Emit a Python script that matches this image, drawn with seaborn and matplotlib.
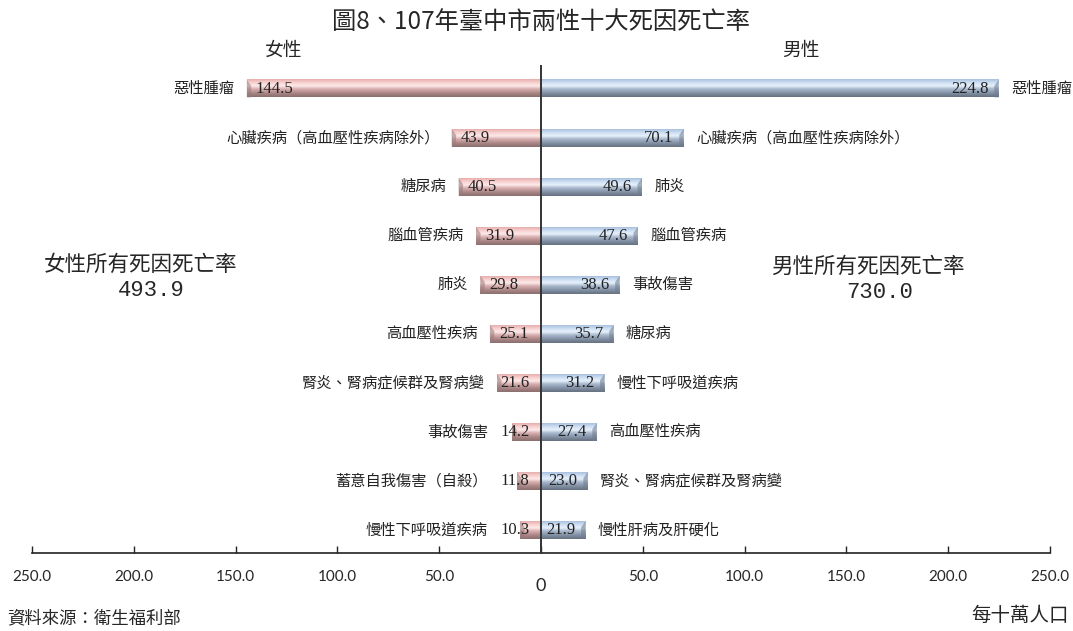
import seaborn as sns
import pandas as pd
import numpy as np
import matplotlib
matplotlib.use("Agg")
import matplotlib.pyplot as plt
from matplotlib.colors import LinearSegmentedColormap

sns.set_theme(style="white")
plt.rcParams['font.family'] = ['Noto Sans CJK TC', 'DejaVu Sans']

# data (per 100,000 population)
female_causes = ["惡性腫瘤", "心臟疾病（高血壓性疾病除外）", "糖尿病", "腦血管疾病", "肺炎",
                 "高血壓性疾病", "腎炎、腎病症候群及腎病變", "事故傷害", "蓄意自我傷害（自殺）",
                 "慢性下呼吸道疾病"]
female_rates = [144.5, 43.9, 40.5, 31.9, 29.8, 25.1, 21.6, 14.2, 11.8, 10.3]

male_causes = ["惡性腫瘤", "心臟疾病（高血壓性疾病除外）", "肺炎", "腦血管疾病", "事故傷害",
               "糖尿病", "慢性下呼吸道疾病", "高血壓性疾病", "腎炎、腎病症候群及腎病變",
               "慢性肝病及肝硬化"]
male_rates = [224.8, 70.1, 49.6, 47.6, 38.6, 35.7, 31.2, 27.4, 23.0, 21.9]

female_total = "493.9"
male_total = "730.0"
xticks = [-250, -200, -150, -100, -50, 0, 50, 100, 150, 200, 250]

ranks = list(range(len(female_rates)))
df = pd.DataFrame({
    "rank": ranks + ranks,
    "value": [-v for v in female_rates] + male_rates,
    "sex": ["女性"] * len(ranks) + ["男性"] * len(ranks),
})

fig = plt.figure(figsize=(10.73, 6.31), dpi=100)
ax = fig.add_axes([0.0298, 0.1236, 0.9488, 0.774])

bar_h = 0.36
sns.barplot(data=df, x="value", y="rank", hue="sex", orient="h", dodge=False,
            palette={"女性": "#f0b8b8", "男性": "#b8cce6"}, width=bar_h,
            legend=False, ax=ax, zorder=2)

# bevel-like gradients on each bar
pink = LinearSegmentedColormap.from_list("pink", [
    (0.0, "#e8aeae"), (0.2, "#f8d2d2"), (0.38, "#fde9e9"), (0.55, "#d9b0b0"),
    (0.8, "#a88484"), (1.0, "#8a6e6e")])
blue = LinearSegmentedColormap.from_list("blue", [
    (0.0, "#a9c0de"), (0.2, "#cfe0f4"), (0.38, "#e6f0fb"), (0.55, "#a9b8cc"),
    (0.8, "#7f8ea2"), (1.0, "#66717f")])
grad = np.linspace(0, 1, 64).reshape(-1, 1)
for p in list(ax.patches):
    w = p.get_width()
    if w == 0:
        continue
    x0, y0, h = p.get_x(), p.get_y(), p.get_height()
    cmap = pink if w < 0 else blue
    ax.imshow(grad, cmap=cmap, aspect="auto", origin="upper", zorder=3,
              extent=(x0, x0 + w, y0 + h, y0), interpolation="bilinear")
    # small darker bevel at the outer end
    x1 = x0 + w
    d = -2.2 if w < 0 else 2.2
    edge = "#9a7a7a" if w < 0 else "#6f7c8c"
    ax.fill([x1, x1 - d, x1 - d, x1], [y0, y0 + h * 0.35, y0 + h, y0 + h],
            color=edge, alpha=0.55, lw=0, zorder=4)
    p.set_visible(False)

ax.set_xlim(-250, 250)
ax.set_ylim(9.47, -0.49)
ax.axvline(0, color="#333333", lw=1.4, zorder=5)

# value and cause labels
num_font = ["Liberation Serif"]
for i, (c, v) in enumerate(zip(female_causes, female_rates)):
    vx = min(-v + 4.5, -20)
    ax.text(vx, i, f"{v:.1f}", ha="left", va="center", fontsize=12,
            family=num_font, color="#222222", zorder=6)
    ax.text(min(-v, vx) - 6, i, c, ha="right", va="center", fontsize=11,
            color="#222222", zorder=6)
for i, (c, v) in enumerate(zip(male_causes, male_rates)):
    ax.text(v - 5, i, f"{v:.1f}", ha="right", va="center", fontsize=12,
            family=num_font, color="#222222", zorder=6)
    ax.text(v + 6, i, c, ha="left", va="center", fontsize=11,
            color="#222222", zorder=6)

# axes styling
sns.despine(ax=ax, left=True)
ax.spines["bottom"].set_color("#222222")
ax.spines["bottom"].set_linewidth(1.2)
ax.set_yticks([])
ax.set_xticks(xticks)
ax.set_xticklabels([f"{abs(t):.1f}" if t != 0 else "" for t in xticks],
                   family=["Lato"], fontsize=11)
ax.tick_params(axis="x", direction="in", length=5, width=1, color="#222222",
               pad=12, bottom=True)
ax.set_xlabel("")
ax.set_ylabel("")
ax.grid(False)
ax.text(0, -0.068, "0", transform=ax.get_xaxis_transform(), ha="center", va="center",
        fontsize=13, family=["Lato"])

# titles and side notes
fig.text(0.5045, 0.965, "圖8、107年臺中市兩性十大死因死亡率", ha="center", va="center",
         fontsize=17.5)
fig.text(0.264, 0.92, "女性", ha="center", va="center", fontsize=13.5)
fig.text(0.746, 0.92, "男性", ha="center", va="center", fontsize=13.5)
fig.text(0.131, 0.58, "女性所有死因死亡率", ha="center", va="center", fontsize=15.5)
fig.text(0.141, 0.54, female_total, ha="center", va="center", fontsize=16,
         family=["Liberation Mono"])
fig.text(0.809, 0.577, "男性所有死因死亡率", ha="center", va="center", fontsize=15.5)
fig.text(0.82, 0.537, male_total, ha="center", va="center", fontsize=16,
         family=["Liberation Mono"])
fig.text(0.007, 0.02, "資料來源：衛生福利部", ha="left", va="center", fontsize=12.5)
fig.text(0.996, 0.025, "每十萬人口", ha="right", va="center", fontsize=14)

plt.savefig("out.png", dpi=100)
